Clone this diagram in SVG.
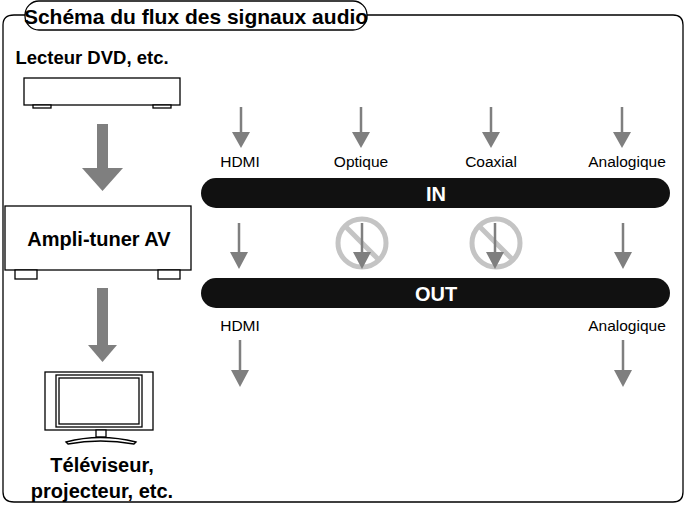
<svg xmlns="http://www.w3.org/2000/svg" width="687" height="506" viewBox="0 0 687 506">
<style>
.t{font-family:"Liberation Sans",Arial,sans-serif;fill:#000}
.b{font-weight:bold}
.box{fill:#fff;stroke:#000;stroke-width:1.3}
.ar{stroke:#7f7f7f;stroke-width:2.5;fill:none}
.hd{fill:#7f7f7f}
.no{fill:none;stroke:#c4c4c4;stroke-width:5}
</style>
<rect width="687" height="506" fill="#fff"/>
<path d="M25,15 L14,15 Q3,15 3,25 L3,492 Q3,502 14,502 L673,502 Q683,502 683,492 L683,25 Q683,15 673,15 L367,15" fill="none" stroke="#000" stroke-width="1.3"/>
<g id="title"><rect x="25" y="1" width="342" height="29" rx="14" class="box"/>
<text x="196" y="24" class="t b" font-size="21" text-anchor="middle">Schéma du flux des signaux audio</text></g>
<g id="dvd"><text x="92" y="64" class="t b" font-size="18.5" text-anchor="middle">Lecteur DVD, etc.</text>
<rect x="24" y="78" width="156" height="27" class="box"/>
<rect x="33" y="105" width="18" height="3" class="box"/><rect x="153" y="105" width="18" height="3" class="box"/></g>
<g id="amp"><rect x="5" y="206" width="186" height="64" class="box"/>
<rect x="15" y="270" width="22" height="9" class="box"/><rect x="158" y="270" width="22" height="9" class="box"/>
<text x="99" y="246" class="t b" font-size="20" text-anchor="middle">Ampli-tuner AV</text></g>
<g id="tv"><rect x="45" y="372" width="108" height="58" class="box"/>
<rect x="56" y="375" width="86" height="52" class="box"/><rect x="59" y="378" width="80" height="46" class="box"/>
<rect x="96" y="430" width="10" height="7" class="box"/>
<path d="M66,442 Q100,433 136,442 L134,444 Q100,438 68,444 Z" class="box"/>
<text x="102" y="472" class="t b" font-size="20" text-anchor="middle">Téléviseur,</text>
<text x="102" y="498" class="t b" font-size="20" text-anchor="middle">projecteur, etc.</text></g>
<g id="in"><rect x="201" y="178" width="469" height="30" rx="15" fill="#111"/>
<text x="436" y="201" class="t b" font-size="20" style="fill:#fff" text-anchor="middle">IN</text></g>
<g id="out"><rect x="201" y="278" width="469" height="30" rx="15" fill="#111"/>
<text x="436" y="301" class="t b" font-size="20" style="fill:#fff" text-anchor="middle">OUT</text></g>
<g id="labels" class="t" font-size="15.5" text-anchor="middle">
<text x="240" y="167">HDMI</text><text x="361" y="167">Optique</text><text x="491" y="167">Coaxial</text><text x="627" y="167">Analogique</text>
<text x="240" y="331">HDMI</text><text x="627" y="331">Analogique</text></g>
<g id="no"><circle cx="362" cy="243" r="24" class="no"/><line x1="345" y1="226" x2="379" y2="260" class="no"/>
<circle cx="496" cy="243" r="24" class="no"/><line x1="479" y1="226" x2="513" y2="260" class="no"/></g>
<g id="connectors">
<rect x="97" y="124" width="11" height="45" class="hd"/><path d="M82,168 L123,168 L102.5,191 Z" class="hd"/>
<rect x="97" y="288" width="11" height="58" class="hd"/><path d="M88,345 L117,345 L102.5,362 Z" class="hd"/>
<path d="M241,107V134M361,107V134M491,107V134M622,107V134M239,223V254M362,223V254M495,223V254M623,223V254M240,340V372M623,340V372" class="ar"/>
<path d="M232,132h18l-9,16zM352,132h18l-9,16zM482,132h18l-9,16zM613,132h18l-9,16zM230,252h18l-9,17zM353,252h18l-9,17zM486,252h18l-9,17zM614,252h18l-9,17zM231,370h18l-9,17zM614,370h18l-9,17z" class="hd"/>
</g>
</svg>
